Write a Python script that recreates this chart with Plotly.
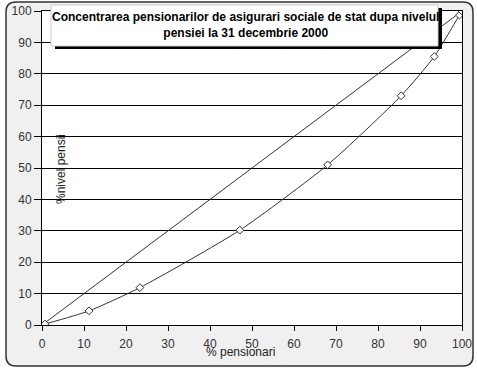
import plotly.graph_objects as go

# Data
pct_pensionari = [0.7, 11.2, 23.3, 47.1, 68.0, 85.5, 93.4, 99.4, 100]
pct_nivel_pensii = [0.3, 4.5, 11.9, 30.2, 51.0, 73.0, 85.5, 98.7, 100]
egalitate_x = [0.7, 100]
egalitate_y = [0.7, 100]
x_ticks = [0, 10, 20, 30, 40, 50, 60, 70, 80, 90, 100]
y_ticks = [0, 10, 20, 30, 40, 50, 60, 70, 80, 90, 100]
title_text = "Concentrarea pensionarilor de asigurari sociale de stat dupa nivelul<br>pensiei la 31 decembrie 2000"

W, H = 477, 370
L, R, T, B = 42, 15, 11, 45
pw, ph = W - L - R, H - T - B

def px(x):
    return (x - L) / pw

def py(y):
    return (H - B - y) / ph

fig = go.Figure()
fig.add_trace(go.Scatter(x=egalitate_x, y=egalitate_y, mode="lines",
                         line=dict(color="#333333", width=1), showlegend=False))
fig.add_trace(go.Scatter(x=pct_pensionari, y=pct_nivel_pensii, mode="lines+markers",
                         line=dict(color="#333333", width=1, shape="spline", smoothing=0.6),
                         marker=dict(symbol="diamond", size=6, color="white",
                                     line=dict(width=1, color="#333333")),
                         showlegend=False))

# rounded outer frame
x0, x1, y0, y1 = px(6), px(473), py(366), py(2)
rx, ry = 10 / pw, 10 / ph
path = (f"M {x0+rx},{y1} L {x1-rx},{y1} Q {x1},{y1} {x1},{y1-ry} "
        f"L {x1},{y0+ry} Q {x1},{y0} {x1-rx},{y0} L {x0+rx},{y0} "
        f"Q {x0},{y0} {x0},{y0+ry} L {x0},{y1-ry} Q {x0},{y1} {x0+rx},{y1} Z")
fig.add_shape(type="path", path=path, xref="paper", yref="paper",
              fillcolor="#f0f0f0", line=dict(color="#333333", width=1.5), layer="below")
# white plot area
fig.add_shape(type="rect", xref="paper", yref="paper", x0=0, x1=1, y0=0, y1=1,
              fillcolor="white", line=dict(width=0), layer="below")

# title box with shadow
fig.add_shape(type="rect", xref="paper", yref="paper",
              x0=px(55), x1=px(442), y0=py(49), y1=py(8),
              fillcolor="black", line=dict(width=0), layer="above")
fig.add_shape(type="rect", xref="paper", yref="paper",
              x0=px(51), x1=px(438), y0=py(46), y1=py(5),
              fillcolor="white", line=dict(color="#cccccc", width=1), layer="above")
fig.add_annotation(x=px(245), y=py(25), xref="paper", yref="paper",
                   text="<b>" + title_text + "</b>", showarrow=False,
                   font=dict(family="Liberation Sans, Arial", size=12, color="black"),
                   xanchor="center", yanchor="middle", align="center")

fig.add_annotation(x=px(240), y=py(352), xref="paper", yref="paper",
                   text="% pensionari", showarrow=False,
                   font=dict(family="Liberation Sans, Arial", size=12, color="#222222"),
                   xanchor="center", yanchor="middle")
fig.add_annotation(x=px(61), y=py(169), xref="paper", yref="paper",
                   text="%nivel pensii", showarrow=False, textangle=-90,
                   font=dict(family="Liberation Sans, Arial", size=12, color="#222222"),
                   xanchor="center", yanchor="middle")

fig.update_xaxes(range=[0, 100], tickvals=x_ticks, ticks="outside", ticklen=5,
                 tickcolor="black", showline=True, linecolor="black", linewidth=1,
                 mirror=True, showgrid=False, zeroline=False, automargin=False,
                 ticklabelstandoff=3,
                 tickfont=dict(family="Liberation Sans, Arial", size=12, color="#333333"))
fig.update_yaxes(range=[0, 100], tickvals=y_ticks, ticks="outside", ticklen=7,
                 tickcolor="black", showline=True, linecolor="black", linewidth=1,
                 mirror=True, showgrid=True, gridcolor="black", gridwidth=1,
                 zeroline=False, automargin=False,
                 tickfont=dict(family="Liberation Sans, Arial", size=12, color="#333333"))

fig.update_layout(width=W, height=H, autosize=False, margin=dict(l=L, r=R, t=T, b=B),
                  paper_bgcolor="white", plot_bgcolor="white")
fig.write_html("out.html",
               config={"displayModeBar": False, "responsive": False},
               post_script="document.body.style.margin='0';document.body.style.overflow='hidden';")
